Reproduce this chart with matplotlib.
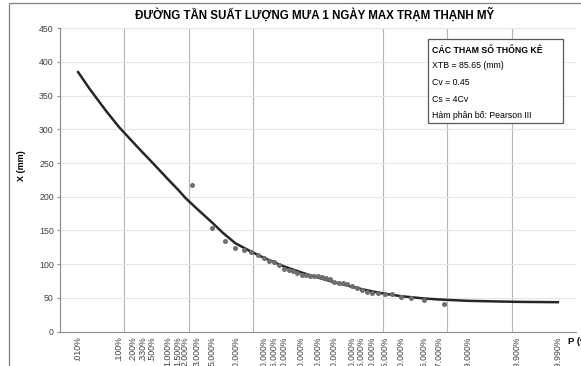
import math
import numpy as np
import matplotlib
matplotlib.use("Agg")
import matplotlib.pyplot as plt
from matplotlib.patches import Rectangle

plt.rcParams['font.family'] = ['Liberation Sans', 'DejaVu Sans']

# Nhãn trục tần suất P (%)
p_ticks = [0.01, 0.1, 0.2, 0.33, 0.5, 1, 1.5, 2, 3, 5, 10, 20, 25, 30, 40, 50,
           60, 70, 75, 80, 85, 90, 95, 97, 99, 99.9, 99.99]
tick_labels = [".010%", ".100%", ".200%", ".330%", ".500%", "1.000%", "1.500%",
               "2.000%", "3.000%", "5.000%", "10.000%", "20.000%", "25.000%",
               "30.000%", "40.000%", "50.000%", "60.000%", "70.000%", "75.000%",
               "80.000%", "85.000%", "90.000%", "95.000%", "97.000%", "99.000%",
               "99.900%", "99.990%"]

# Đường tần suất lý luận
curve_p = [0.01, 0.02, 0.05, 0.1, 0.2, 0.33, 0.5, 1, 1.5, 2, 3, 5, 7, 10, 15, 20,
           25, 30, 40, 50, 60, 70, 75, 80, 85, 90, 95, 97, 99, 99.9, 99.99]
curve_x = [385, 360, 328, 304, 282, 265.5, 251.5, 226, 210.5, 198, 182.5, 162,
           146.5, 131, 118.5, 109.5, 102.5, 96.5, 87.5, 80, 73, 66.5, 63, 59.5, 56,
           52.5, 49, 47.5, 45.5, 44, 43.5]

# Điểm kinh nghiệm (n = 39)
obs_p = [2.5, 5, 7.5, 10, 12.5, 15, 17.5, 20, 22.5, 25, 27.5, 30, 32.5, 35, 37.5,
         40, 42.5, 45, 47.5, 50, 52.5, 55, 57.5, 60, 62.5, 65, 67.5, 70, 72.5,
         75, 77.5, 80, 82.5, 85, 87.5, 90, 92.5, 95, 97.5]
obs_x = [218, 154, 134, 124.5, 121, 118, 114, 108.5, 105, 103, 99, 93, 91.5, 90,
         86.5, 84, 83.5, 83, 82.5, 82, 81, 80, 77.5, 74, 72.5, 71.5, 70, 67, 64.5,
         61, 59, 57.5, 56.5, 55.5, 55.5, 51, 49.5, 47, 41]


# thang xác suất chuẩn (giấy xác suất)
A = [-3.969683028665376e+01, 2.209460984245205e+02, -2.759285104469687e+02,
     1.383577518672690e+02, -3.066479806614716e+01, 2.506628277459239e+00]
B = [-5.447609879822406e+01, 1.615858368580409e+02, -1.556989798598866e+02,
     6.680131188771972e+01, -1.328068155288572e+01]
C = [-7.784894002430293e-03, -3.223964580411365e-01, -2.400758277161838e+00,
     -2.549732539343734e+00, 4.374664141464968e+00, 2.938163982698783e+00]
D = [7.784695709041462e-03, 3.224671290700398e-01, 2.445134137142996e+00,
     3.754408661907416e+00]


def ppf1(p):
    p = min(max(p, 1e-12), 1 - 1e-12)
    if p < 0.02425:
        q = math.sqrt(-2 * math.log(p))
        return (((((C[0]*q+C[1])*q+C[2])*q+C[3])*q+C[4])*q+C[5]) / \
               ((((D[0]*q+D[1])*q+D[2])*q+D[3])*q+1)
    if p > 1 - 0.02425:
        return -ppf1(1 - p)
    q = p - 0.5
    r = q * q
    return (((((A[0]*r+A[1])*r+A[2])*r+A[3])*r+A[4])*r+A[5])*q / \
           (((((B[0]*r+B[1])*r+B[2])*r+B[3])*r+B[4])*r+1)


def forward(p):
    return np.vectorize(lambda v: ppf1(v / 100.0))(np.asarray(p, dtype=float))


def inverse(z):
    return np.vectorize(lambda v: 50.0 * (1 + math.erf(v / math.sqrt(2))))(np.asarray(z, dtype=float))


fig = plt.figure(figsize=(5.81, 3.66), dpi=100)
fig.add_artist(Rectangle((9 / 581, -0.1), 1.2, (363 + 36.6) / 366, transform=fig.transFigure,
                         fill=False, edgecolor='#7f7f7f', linewidth=0.9))

ax = fig.add_axes([60 / 581, 34.5 / 366, 516 / 581, 303.2 / 366])
ax.set_xscale('function', functions=(forward, inverse))
ax.set_xlim(float(inverse(-4)), float(inverse(4)))
ax.set_ylim(0, 450)

ax.set_xticks(p_ticks)
ax.set_xticklabels(tick_labels, rotation=90, fontsize=6.3, color='#404040', va='top')
ax.set_xticks([float(inverse(k)) for k in range(-3, 4)], minor=True)
ax.tick_params(axis='x', which='both', length=0, pad=3.5)
ax.set_yticks(np.arange(0, 451, 50))
ax.tick_params(axis='y', length=2.5, color='#8c8c8c', labelsize=6.3, labelcolor='#404040', pad=2)

ax.grid(axis='x', which='minor', color='#b4b4b4', linewidth=0.8)
ax.grid(axis='y', which='major', color='#e6e6e6', linewidth=0.8)
ax.set_axisbelow(True)
for s in ['top', 'right']:
    ax.spines[s].set_visible(False)
for s in ['left', 'bottom']:
    ax.spines[s].set_color('#8c8c8c')
    ax.spines[s].set_linewidth(0.8)

ax.plot(curve_p, curve_x, color='#262626', linewidth=1.8, zorder=3,
        solid_joinstyle='round')
ax.scatter(obs_p, obs_x, s=13, color='#6e6e6e', zorder=4, linewidths=0)

fig.text(315 / 581, 1 - 15 / 366, "ĐƯỜNG TẦN SUẤT LƯỢNG MƯA 1 NGÀY MAX TRẠM THẠNH MỸ",
         ha='center', va='center', fontsize=8.3, fontweight='bold')
fig.text(22 / 581, 1 - 166 / 366, "X (mm)", rotation=90, ha='center', va='center',
         fontsize=6.5, fontweight='bold')
fig.text(568 / 581, 1 - 341.5 / 366, "P (%)", ha='left', va='center',
         fontsize=6.8, fontweight='bold')

# bảng thông số
fig.add_artist(Rectangle((427.7 / 581, 1 - 123.3 / 366), (563.3 - 427.7) / 581, 84 / 366,
                         transform=fig.transFigure, facecolor='white',
                         edgecolor='#595959', linewidth=0.9, zorder=5))
lines = ["XTB = 85.65 (mm)", "Cv = 0.45", "Cs = 4Cv", "Hàm phân bố: Pearson III"]
fig.text(432.3 / 581, 1 - 50.7 / 366, "CÁC THAM SỐ THỐNG KÊ", ha='left', va='center',
         fontsize=6.3, fontweight='bold', zorder=6)
for i, t in enumerate(lines):
    fig.text(432.3 / 581, 1 - (66 + 16.5 * i) / 366, t, ha='left', va='center',
             fontsize=6.3, zorder=6)

fig.savefig("out.png", dpi=100)
